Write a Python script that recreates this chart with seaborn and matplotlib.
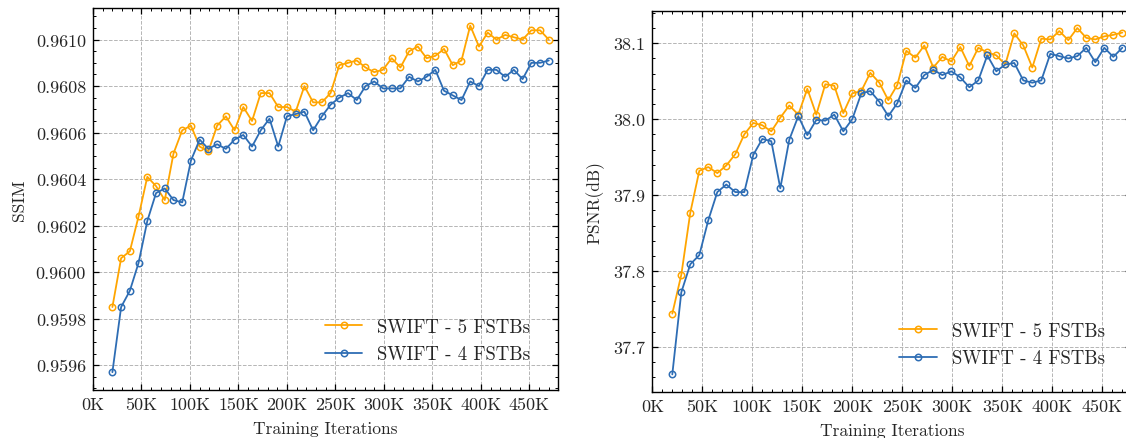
import matplotlib
matplotlib.use("Agg")
import matplotlib.pyplot as plt
import matplotlib.ticker as mticker
import seaborn as sns
import pandas as pd

# ---------------- data ----------------
iters_k = [20, 29, 38, 47, 56, 65, 74, 83, 92, 101, 110, 119, 128, 137, 146, 155, 164,
           173, 182, 191, 200, 209, 218, 227, 236, 245, 254, 263, 272, 281, 290, 299,
           308, 317, 326, 335, 344, 353, 362, 371, 380, 389, 398, 407, 416, 425, 434,
           443, 452, 461, 470]

ssim_5 = [0.95985, 0.96006, 0.96009, 0.96024, 0.96041, 0.96037, 0.96031, 0.96051, 0.96061, 0.96063,
          0.96054, 0.96052, 0.96063, 0.96067, 0.96061, 0.96071, 0.96065, 0.96077, 0.96077, 0.96071,
          0.96071, 0.96069, 0.96080, 0.96073, 0.96073, 0.96077, 0.96089, 0.96090, 0.96091, 0.96088,
          0.96086, 0.96087, 0.96092, 0.96088, 0.96095, 0.96097, 0.96092, 0.96093, 0.96096, 0.96089,
          0.96091, 0.96106, 0.96097, 0.96103, 0.96100, 0.96102, 0.96101, 0.96100, 0.96104, 0.96104,
          0.96100]
ssim_4 = [0.95957, 0.95985, 0.95992, 0.96004, 0.96022, 0.96034, 0.96036, 0.96031, 0.96030, 0.96048,
          0.96057, 0.96053, 0.96055, 0.96053, 0.96057, 0.96059, 0.96054, 0.96061, 0.96066, 0.96054,
          0.96067, 0.96068, 0.96069, 0.96061, 0.96067, 0.96072, 0.96075, 0.96077, 0.96074, 0.96080,
          0.96082, 0.96079, 0.96079, 0.96079, 0.96084, 0.96082, 0.96084, 0.96087, 0.96078, 0.96076,
          0.96074, 0.96082, 0.96080, 0.96087, 0.96087, 0.96084, 0.96087, 0.96083, 0.96090, 0.96090,
          0.96091]
psnr_5 = [37.744, 37.795, 37.877, 37.932, 37.937, 37.929, 37.939, 37.954, 37.980, 37.995,
          37.992, 37.984, 38.002, 38.018, 38.006, 38.040, 38.006, 38.046, 38.044, 38.008,
          38.034, 38.037, 38.061, 38.048, 38.025, 38.045, 38.090, 38.081, 38.097, 38.068,
          38.082, 38.076, 38.095, 38.070, 38.094, 38.088, 38.084, 38.072, 38.113, 38.097,
          38.068, 38.106, 38.105, 38.116, 38.104, 38.120, 38.107, 38.105, 38.109, 38.111,
          38.114]
psnr_4 = [37.664, 37.772, 37.809, 37.821, 37.867, 37.904, 37.914, 37.904, 37.904, 37.953,
          37.974, 37.971, 37.909, 37.973, 38.004, 37.979, 37.999, 37.998, 38.006, 37.984,
          38.000, 38.034, 38.037, 38.023, 38.004, 38.021, 38.051, 38.041, 38.058, 38.065,
          38.058, 38.063, 38.055, 38.042, 38.051, 38.084, 38.063, 38.072, 38.074, 38.051,
          38.048, 38.051, 38.086, 38.083, 38.080, 38.083, 38.094, 38.075, 38.094, 38.082,
          38.094]

series_labels = ["SWIFT - 5 FSTBs", "SWIFT - 4 FSTBs"]
x_label = "Training Iterations"
y_labels = ["SSIM", "PSNR(dB)"]

# ---------------- style ----------------
sns.set_style("ticks")
plt.rcParams["font.family"] = ["cmr10", "DejaVu Serif"]
plt.rcParams["mathtext.fontset"] = "cm"
plt.rcParams["axes.formatter.use_mathtext"] = True
plt.rcParams["axes.unicode_minus"] = False

COL5 = "#FFA500"
COL4 = "#2E6DB4"
TICK_FS = 13
LABEL_FS = 12.5
LEG_FS = 13.5

fig = plt.figure(figsize=(11.26, 4.39), dpi=100)
W, H = 1126.0, 439.0
ax1 = fig.add_axes([93 / W, 1 - 390.5 / H, 464.5 / W, 381.2 / H])
ax2 = fig.add_axes([652.3 / W, 1 - 392.7 / H, 479 / W, 381.0 / H])

x_vals = [v * 1000 for v in iters_k]


def draw(ax, y5, y4, ylab, fmt, leg_anchor):
    df = pd.DataFrame({"it": x_vals * 2,
                       "val": list(y5) + list(y4),
                       "series": [series_labels[0]] * len(y5) + [series_labels[1]] * len(y4)})
    for lab, col in zip(series_labels, [COL5, COL4]):
        sub = df[df["series"] == lab]
        sns.lineplot(data=sub, x="it", y="val", ax=ax, color=col, label=lab,
                     marker="o", markersize=4.6, markerfacecolor="none",
                     markeredgecolor=col, markeredgewidth=1.1, linewidth=1.3)
    ax.set_xlim(0, 479000)
    ax.xaxis.set_major_locator(mticker.MultipleLocator(50000))
    ax.xaxis.set_minor_locator(mticker.MultipleLocator(10000))
    ax.xaxis.set_major_formatter(mticker.FuncFormatter(lambda v, p: f"{int(round(v / 1000))}K"))
    ax.yaxis.set_major_formatter(mticker.FormatStrFormatter(fmt))
    ax.yaxis.set_minor_locator(mticker.AutoMinorLocator())
    ax.tick_params(which="both", direction="in", top=True, right=True, labelsize=TICK_FS,
                   color="black", pad=5)
    ax.tick_params(which="major", length=4, width=0.9)
    ax.tick_params(which="minor", length=2.2, width=0.7)
    ax.grid(True, which="major", linestyle="--", linewidth=0.7, color="#b5b5b5")
    for sp in ax.spines.values():
        sp.set_linewidth(1.0)
        sp.set_color("black")
    ax.set_xlabel(x_label, fontsize=LABEL_FS, labelpad=6.5)
    ax.set_ylabel(ylab, fontsize=LABEL_FS, labelpad=6)
    ax.legend(loc="lower right", frameon=False, fontsize=LEG_FS,
              bbox_to_anchor=leg_anchor, handlelength=2.0)


draw(ax1, ssim_5, ssim_4, y_labels[0], "%.4f", (0.978, 0.025))
draw(ax2, psnr_5, psnr_4, y_labels[1], "%.1f", (0.98, 0.02))

fig.savefig("out.png", dpi=100)
